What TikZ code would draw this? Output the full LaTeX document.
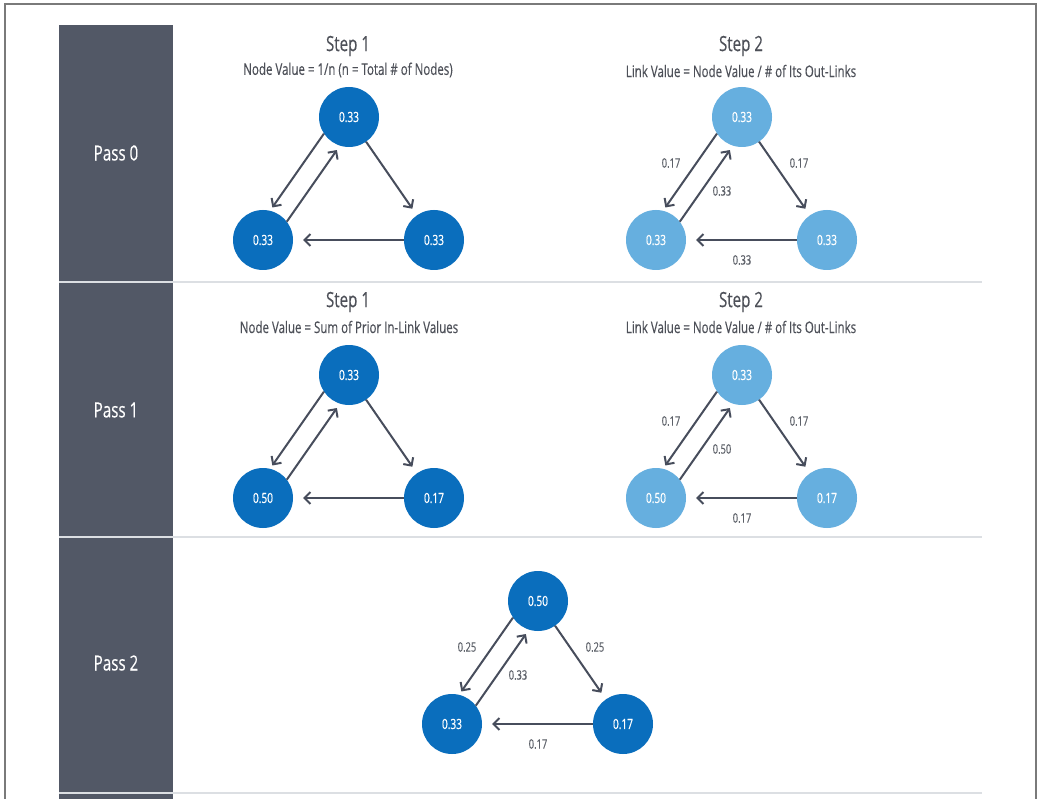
\documentclass[tikz,border=0pt]{standalone}
\usepackage{fontspec}
\setmainfont{Open Sans}[FakeStretch=0.72, FakeBold=0.25]
\newfontfamily\nvfont{Open Sans}[FakeStretch=0.72, FakeBold=0.6]
\usetikzlibrary{arrows.meta,calc}
\definecolor{sidebar}{HTML}{525866}
\definecolor{darkblue}{HTML}{0A6EBD}
\definecolor{lightblue}{HTML}{66AFDF}
\definecolor{arrowc}{HTML}{474D5C}
\definecolor{divider}{HTML}{DCDFE3}
\definecolor{framec}{HTML}{7A7A7A}
\definecolor{titlec}{HTML}{4D5058}
\definecolor{labelc}{HTML}{5C6068}
\tikzset{
  bnode/.style={circle, fill=darkblue, draw=none, minimum size=60pt, inner sep=0pt, text=white, font=\nvfont\fontsize{14}{16}\selectfont},
  lnode/.style={bnode, fill=lightblue},
  arr/.style={draw=arrowc, line width=2pt, -{Straight Barb[length=6pt, width=12pt]}},
  elab/.style={text=labelc, font=\fontsize{13}{15}\selectfont, inner sep=0pt},
  steptitle/.style={text=titlec, font=\fontsize{21}{25}\selectfont, inner sep=0pt},
  stepsub/.style={text=titlec, font=\fontsize{16}{19}\selectfont, inner sep=0pt},
  passlab/.style={text=white, font=\fontsize{21}{25}\selectfont, inner sep=0pt},
  divline/.style={draw=divider, line width=2pt}
}
\newcommand\pgraph[7]{%
  \node[#4] (#1T) at (#2,#3) {#5};
  \node[#4] (#1L) at ({#2-86},{#3+123}) {#6};
  \node[#4] (#1R) at ({#2+85},{#3+123}) {#7};
  \draw[arr, shorten <=28pt, shorten >=32pt] ($(#1T.center)!11pt!-90:(#1L.center)$) -- ($(#1L.center)!11pt!90:(#1T.center)$);
  \draw[arr, shorten <=28.6pt, shorten >=34pt] ($(#1L.center)!9pt!-90:(#1T.center)$) -- ($(#1T.center)!9pt!90:(#1L.center)$);
  \draw[arr, shorten <=30pt, shorten >=38pt] (#1T.center) -- (#1R.center);
  \draw[arr, shorten <=30pt, shorten >=40pt] (#1R.center) -- (#1L.center);
}
\newcommand\plabels[5]{%
  \node[elab] (#1la) at ($(#1T)+(-71,46)$) {#2};
  \node[elab] (#1lb) at ($(#1T)+(57,46)$) {#3};
  \node[elab] (#1lc) at ($(#1T)+(-20,74)$) {#4};
  \node[elab] (#1ld) at ($(#1T)+(0,143)$) {#5};
}
\begin{document}
\begin{tikzpicture}[x=1pt,y=-1pt]
\useasboundingbox (0,0) rectangle (1040,799);
\fill[white] (0,0) rectangle (1040,799);
\draw[framec, line width=1.5pt] (5,800) -- (5,4) -- (1036,4) -- (1036,800);
\fill[sidebar] (59,25) rectangle (173,800);
\draw[divline] (59,282) -- (982,282);
\draw[divline] (59,537) -- (982,537);
\draw[divline] (59,793) -- (982,793);

\node[passlab] (p0) at (116,153) {Pass 0};
\node[passlab] (p1) at (116,410) {Pass 1};
\node[passlab] (p2) at (116,663) {Pass 2};

\node[steptitle] (t0a) at (348,46) {Step 1};
\node[stepsub] (s0a) at (348,70) {Node Value = 1/n (n = Total \# of Nodes)};
\node[steptitle] (t0b) at (741,46) {Step 2};
\node[stepsub] (s0b) at (741,71) {Link Value = Node Value / \# of Its Out-Links};
\node[steptitle] (t1a) at (348,302) {Step 1};
\node[stepsub] (s1a) at (349,327) {Node Value = Sum of Prior In-Link Values};
\node[steptitle] (t1b) at (741,302) {Step 2};
\node[stepsub] (s1b) at (741,327) {Link Value = Node Value / \# of Its Out-Links};

\pgraph{a}{349}{117}{bnode}{0.33}{0.33}{0.33}
\pgraph{b}{742}{117}{lnode}{0.33}{0.33}{0.33}
\plabels{b}{0.17}{0.17}{0.33}{0.33}
\pgraph{c}{349}{375}{bnode}{0.33}{0.50}{0.17}
\pgraph{d}{742}{375}{lnode}{0.33}{0.50}{0.17}
\plabels{d}{0.17}{0.17}{0.50}{0.17}
\pgraph{e}{538}{601}{bnode}{0.50}{0.33}{0.17}
\plabels{e}{0.25}{0.25}{0.33}{0.17}
\end{tikzpicture}
\end{document}
